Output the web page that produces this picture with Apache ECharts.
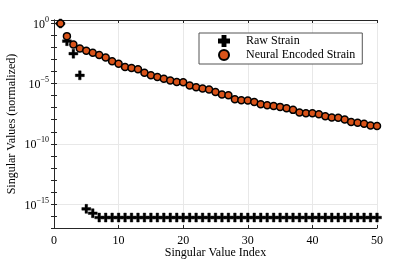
<!DOCTYPE html>
<html>
<head>
<meta charset="utf-8">
<style>
html,body{margin:0;padding:0;background:#fff;}
#chart{width:417px;height:261px;}
</style>
<script src="https://cdn.jsdelivr.net/npm/echarts@6/dist/echarts.min.js"></script>
</head>
<body>
<div id="chart"></div>
<script>
// Singular value index 1..50
const indices = Array.from({length: 50}, (_, i) => i + 1);

// Raw strain singular values (normalized)
const rawStrain = [
  1, 3.4e-2, 3.1e-3, 4.9e-5, 3.9e-16, 1.7e-16,
  7.4e-17, 7.4e-17, 7.4e-17, 7.4e-17, 7.4e-17, 7.4e-17, 7.4e-17, 7.4e-17,
  7.4e-17, 7.4e-17, 7.4e-17, 7.4e-17, 7.4e-17, 7.4e-17, 7.4e-17, 7.4e-17,
  7.4e-17, 7.4e-17, 7.4e-17, 7.4e-17, 7.4e-17, 7.4e-17, 7.4e-17, 7.4e-17,
  7.4e-17, 7.4e-17, 7.4e-17, 7.4e-17, 7.4e-17, 7.4e-17, 7.4e-17, 7.4e-17,
  7.4e-17, 7.4e-17, 7.4e-17, 7.4e-17, 7.4e-17, 7.4e-17, 7.4e-17, 7.4e-17,
  7.4e-17, 7.4e-17, 7.4e-17, 7.4e-17
];

// Neural encoded strain singular values (normalized)
const neuralStrain = [
  1, 8.9e-2, 1.8e-2, 8.5e-3, 5.4e-3, 3.7e-3, 2.4e-3, 1.5e-3, 7.1e-4, 4.6e-4,
  2.4e-4, 2.0e-4, 1.55e-4, 8.1e-5, 4.9e-5, 3.5e-5, 2.6e-5, 1.8e-5, 1.4e-5, 1.3e-5,
  6.9e-6, 5.0e-6, 3.9e-6, 3.2e-6, 2.0e-6, 1.23e-6, 1.07e-6, 5.0e-7, 4.2e-7, 3.9e-7,
  3.0e-7, 1.95e-7, 1.6e-7, 1.4e-7, 1.17e-7, 9.1e-8, 6.6e-8, 4.0e-8, 3.5e-8, 3.5e-8,
  2.9e-8, 1.95e-8, 1.5e-8, 1.45e-8, 1.05e-8, 6.6e-9, 5.5e-9, 4.6e-9, 3.3e-9, 2.95e-9
];

const seriesNames = ['Raw Strain', 'Neural Encoded Strain'];
const yGridDecades = [0, -5, -10, -15];

const font = 'Liberation Serif';
const plusPath = 'path://M3.2,0H5.8V3.2H9V5.8H5.8V9H3.2V5.8H0V3.2H3.2Z';

function toLog(arr) {
  return arr.map((v, i) => [indices[i], Math.log10(v)]);
}

function expLabel(v) {
  if (Math.abs(v - Math.round(v)) > 1e-6) return '';
  const n = Math.round(v);
  if (n % 5 !== 0) return '';
  const s = n < 0 ? '\u2212' + (-n) : String(n);
  return '{b|10}{s|' + s + '}';
}

const axisColor = '#262626';
const yMin = -17, yMax = 0.29;

const yAxisBase = {
  type: 'value', min: yMin, max: yMax, interval: 1,
  axisLine: {show: true, lineStyle: {color: axisColor, width: 1}},
  axisTick: {show: true, inside: true, length: 3, lineStyle: {color: axisColor}},
  splitLine: {show: false}
};

const chart = echarts.init(document.getElementById('chart'), null, {renderer: 'canvas'});
chart.setOption({
  animation: false,
  backgroundColor: '#fff',
  textStyle: {fontFamily: font},
  grid: {left: 54, right: 40, top: 20, bottom: 33, containLabel: false, outerBoundsMode: 'none'},
  legend: {
    orient: 'vertical', left: 199, top: 33,
    padding: [2, 7, 3, 19], itemGap: 2, itemWidth: 14, itemHeight: 10,
    borderColor: '#555', borderWidth: 1, backgroundColor: '#fff',
    textStyle: {fontFamily: font, fontSize: 12, color: '#000', lineHeight: 12, padding: [0, 0, 0, 10]},
    data: seriesNames
  },
  xAxis: [
    {
      type: 'value', min: 0, max: 50, interval: 10,
      name: 'Singular Value Index', nameLocation: 'middle', nameGap: 25, nameMoveOverlap: false,
      nameTextStyle: {fontFamily: font, fontSize: 12, color: '#000', verticalAlign: 'middle'},
      axisLine: {show: true, onZero: false, lineStyle: {color: axisColor}},
      axisTick: {show: true, inside: true, length: 3, lineStyle: {color: axisColor}},
      axisLabel: {fontFamily: font, fontSize: 12, color: '#000', margin: 7},
      splitLine: {show: true, lineStyle: {color: '#e8e8e8', width: 1}}
    },
    {
      type: 'value', min: 0, max: 50, interval: 10, position: 'top',
      axisLine: {show: true, onZero: false, lineStyle: {color: axisColor}},
      axisTick: {show: true, inside: true, length: 3, lineStyle: {color: axisColor}},
      axisLabel: {show: false}, splitLine: {show: false}
    }
  ],
  yAxis: [
    Object.assign({}, yAxisBase, {
      position: 'left',
      name: 'Singular Values (normalized)', nameLocation: 'middle', nameGap: 42, nameMoveOverlap: false,
      nameTextStyle: {fontFamily: font, fontSize: 12, color: '#000', verticalAlign: 'middle'},
      axisLabel: {
        margin: 5, formatter: expLabel, color: '#000',
        rich: {
          b: {fontFamily: font, fontSize: 12, lineHeight: 15, verticalAlign: 'bottom', color: '#000'},
          s: {fontFamily: font, fontSize: 8, lineHeight: 8, verticalAlign: 'top', color: '#000'}
        }
      }
    }),
    Object.assign({}, yAxisBase, {
      position: 'right', axisLabel: {show: false}
    })
  ],
  series: [
    {
      name: seriesNames[0], type: 'scatter', xAxisIndex: 0, yAxisIndex: 0,
      data: toLog(rawStrain), symbol: plusPath, symbolSize: 9,
      itemStyle: {color: '#000', borderColor: '#000', borderWidth: 0.4, opacity: 1}, z: 2,
      markLine: {
        silent: true, symbol: 'none', label: {show: false}, animation: false,
        lineStyle: {color: '#e8e8e8', width: 1, type: 'solid'},
        data: yGridDecades.map(d => ({yAxis: d})), z: 0
      }
    },
    {
      name: seriesNames[1], type: 'scatter', xAxisIndex: 0, yAxisIndex: 0,
      data: toLog(neuralStrain), symbol: 'circle', symbolSize: 7,
      itemStyle: {color: '#D95319', borderColor: '#000', borderWidth: 1.5, opacity: 1}, z: 3
    }
  ]
});
</script>
</body>
</html>
